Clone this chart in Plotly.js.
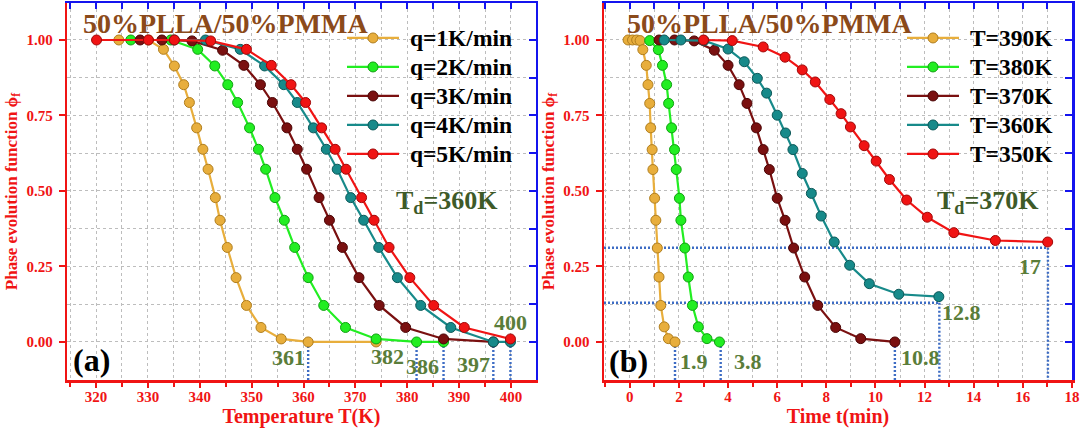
<!DOCTYPE html>
<html><head><meta charset="utf-8">
<script src="https://cdn.plot.ly/plotly-3.0.1.min.js"></script>
<style>html,body{margin:0;padding:0;background:#fff}#chart{width:1084px;height:434px}</style>
</head><body><div id="chart"></div><script>
// ---------- data: panel (a) non-isothermal, phi_f vs temperature ----------
const qNames = ['q=1K/min', 'q=2K/min', 'q=3K/min', 'q=4K/min', 'q=5K/min'];
const q1T   = [324.4, 330.1, 333.0, 335.1, 336.9, 338.0, 339.4, 340.6, 341.6, 343.0, 343.9, 345.3, 347.0, 349.0, 351.8, 355.7, 360.9, 374.0];
const q1Phi = [1.000, 1.000, 0.969, 0.914, 0.852, 0.793, 0.709, 0.638, 0.572, 0.478, 0.403, 0.313, 0.213, 0.121, 0.048, 0.010, 0.000, 0.000];
const q2T   = [326.7, 334.4, 339.6, 342.9, 345.4, 347.3, 349.6, 351.3, 352.7, 354.5, 356.3, 358.3, 360.9, 363.9, 368.1, 374.0, 381.8, 387.0];
const q2Phi = [1.000, 1.000, 0.969, 0.914, 0.852, 0.793, 0.709, 0.638, 0.572, 0.478, 0.403, 0.313, 0.213, 0.121, 0.048, 0.010, 0.000, 0.000];
const q3T   = [328.5, 332.7, 338.5, 344.4, 348.5, 351.7, 354.0, 356.8, 358.8, 360.6, 363.0, 365.0, 367.5, 370.7, 374.6, 379.7, 387.0, 396.6];
const q3Phi = [1.000, 1.000, 0.997, 0.966, 0.916, 0.852, 0.793, 0.709, 0.638, 0.572, 0.478, 0.403, 0.313, 0.213, 0.121, 0.048, 0.010, 0.000];
const q4T   = [335.1, 341.1, 347.8, 352.5, 356.2, 358.8, 361.9, 364.4, 366.5, 369.1, 371.6, 374.5, 378.1, 382.6, 388.4, 396.6, 399.9];
const q4Phi = [1.000, 1.000, 0.969, 0.914, 0.852, 0.793, 0.709, 0.638, 0.572, 0.478, 0.403, 0.313, 0.213, 0.121, 0.048, 0.000, 0.000];
const q5T   = [320.1, 330.1, 335.1, 342.1, 349.0, 353.8, 357.6, 360.4, 363.5, 366.1, 368.2, 371.2, 373.6, 376.5, 380.5, 385.1, 391.0, 399.9];
const q5Phi = [1.000, 1.000, 1.000, 0.997, 0.969, 0.916, 0.852, 0.793, 0.709, 0.638, 0.572, 0.478, 0.403, 0.313, 0.213, 0.121, 0.048, 0.010];
const dropT      = [360.9, 381.8, 387.0, 396.6, 399.9];
const dropTLabel = ['361', '382', '386', '397', '400'];

// ---------- data: panel (b) isothermal, phi_f vs time ----------
const tNames = ['T=390K', 'T=380K', 'T=370K', 'T=360K', 'T=350K'];
const t390   = [-0.07, 0.11, 0.28, 0.42, 0.53, 0.67, 0.74, 0.81, 0.85, 0.91, 0.94, 1.01, 1.06, 1.12, 1.19, 1.26, 1.40, 1.57, 1.84];
const p390   = [1.000, 1.000, 1.000, 0.998, 0.968, 0.916, 0.852, 0.790, 0.709, 0.637, 0.571, 0.476, 0.403, 0.311, 0.215, 0.121, 0.050, 0.011, 0.000];
const t380   = [0.81, 1.16, 1.33, 1.50, 1.58, 1.70, 1.82, 1.89, 2.02, 2.08, 2.24, 2.38, 2.55, 2.79, 3.14, 3.65];
const p380   = [0.998, 0.968, 0.916, 0.852, 0.790, 0.709, 0.637, 0.571, 0.476, 0.403, 0.311, 0.215, 0.121, 0.050, 0.011, 0.000];
const t370   = [1.19, 1.82, 2.62, 3.44, 4.00, 4.45, 4.77, 5.15, 5.43, 5.68, 6.00, 6.32, 6.67, 7.12, 7.65, 8.38, 9.40, 10.79];
const p370   = [1.000, 1.000, 0.997, 0.966, 0.916, 0.852, 0.790, 0.709, 0.637, 0.571, 0.476, 0.403, 0.311, 0.215, 0.121, 0.048, 0.011, 0.000];
const t360   = [1.40, 2.08, 3.02, 4.00, 4.66, 5.19, 5.57, 6.00, 6.34, 6.64, 7.02, 7.39, 7.79, 8.32, 8.95, 9.75, 10.95, 12.58];
const p360   = [1.000, 1.000, 0.998, 0.970, 0.928, 0.873, 0.824, 0.751, 0.692, 0.637, 0.558, 0.492, 0.417, 0.331, 0.254, 0.193, 0.158, 0.150];
const t350   = [3.00, 4.17, 5.43, 6.32, 7.02, 7.55, 8.14, 8.60, 8.98, 9.54, 10.03, 10.57, 11.27, 12.11, 13.19, 14.88, 17.01];
const p350   = [1.000, 0.998, 0.977, 0.943, 0.901, 0.861, 0.803, 0.756, 0.712, 0.650, 0.599, 0.538, 0.470, 0.413, 0.362, 0.336, 0.331];
const dropTime      = [1.84, 3.70, 10.79, 12.60, 17.02];
const dropTimePhi   = [0.000, 0.000, 0.000, 0.130, 0.312];
const dropTimeLabel = ['1.9', '3.8', '10.8', '12.8', '17'];
const guidePhi = [0.312, 0.130];
const guideEnd = [17.02, 12.60];

// ---------- styles ----------
const FONT = 'Liberation Serif, Times New Roman, serif';
const RED = '#F01414', BLUE = '#1414EE', GRID = '#BDBDBD', GUIDE = '#3D6CC4';
const colors = ['#E8AE3C', '#22EE22', '#7A1010', '#178A8A', '#F01414'];
const edges  = ['#B07E1E', '#10A010', '#4A0505', '#0C5858', '#A00808'];
const XL = [314.46, 404.73], XR = [-1.05, 18.0], YR = [-0.126, 1.1225];

function legendText(s) { return '<span style="font-size:23.5px">&nbsp;' + s + '</span>'; }
function series(x, y, name, i, xa, ya, leg) {
  return {type: 'scatter', mode: 'lines+markers', x: x, y: y, name: legendText(name),
    xaxis: xa, yaxis: ya, legend: leg, legendgroup: leg + i,
    line: {color: colors[i], width: 2.2},
    marker: {symbol: 'circle', size: 10, color: colors[i], line: {color: edges[i], width: 1}},
    hoverinfo: 'x+y'};
}
const traces = [];
// guide lines (drawn first, underneath)
dropT.forEach(function (v) {
  traces.push({type: 'scatter', mode: 'lines', x: [v, v], y: [0, YR[0]], xaxis: 'x', yaxis: 'y',
    showlegend: false, hoverinfo: 'skip', line: {color: GUIDE, width: 2.4, dash: '2px,2px'}});
});
dropTime.forEach(function (v, k) {
  traces.push({type: 'scatter', mode: 'lines', x: [v, v], y: [dropTimePhi[k], YR[0]], xaxis: 'x2', yaxis: 'y2',
    showlegend: false, hoverinfo: 'skip', line: {color: GUIDE, width: 2.4, dash: '2px,2px'}});
});
guidePhi.forEach(function (p, k) {
  traces.push({type: 'scatter', mode: 'lines', x: [XR[0], guideEnd[k]], y: [p, p], xaxis: 'x2', yaxis: 'y2',
    showlegend: false, hoverinfo: 'skip', line: {color: GUIDE, width: 2.4, dash: '2px,2px'}});
});
const leftX = [q1T, q2T, q3T, q4T, q5T], leftY = [q1Phi, q2Phi, q3Phi, q4Phi, q5Phi];
const rightX = [t390, t380, t370, t360, t350], rightY = [p390, p380, p370, p360, p350];
for (let i = 0; i < 5; i++) traces.push(series(leftX[i], leftY[i], qNames[i], i, 'x', 'y', 'legend'));
for (let i = 0; i < 5; i++) traces.push(series(rightX[i], rightY[i], tNames[i], i, 'x2', 'y2', 'legend2'));
// empty traces so the blue frame axes exist
traces.push({type: 'scatter', x: [], y: [], xaxis: 'x3', yaxis: 'y3', showlegend: false});
traces.push({type: 'scatter', x: [], y: [], xaxis: 'x4', yaxis: 'y4', showlegend: false});

const tickFont = {family: FONT, size: 15, color: RED, weight: 'bold'};
function bottomAxis(dom, range, tick0, dtick, mdtick, title, anchor) {
  return {domain: dom, range: range, anchor: anchor, tick0: tick0, dtick: dtick,
    ticks: 'outside', ticklen: 5, tickwidth: 2, tickcolor: RED, ticklabelstandoff: -4,
    showline: true, linecolor: RED, linewidth: 2.5, zeroline: false, tickfont: tickFont,
    showgrid: true, gridcolor: GRID, gridwidth: 1, griddash: 'dot',
    minor: {dtick: mdtick, tick0: tick0, ticks: 'outside', ticklen: 4, tickwidth: 2, tickcolor: RED,
      showgrid: true, gridcolor: GRID, gridwidth: 1, griddash: 'dot'},
    title: {text: title, font: {family: FONT, size: 20, color: RED, weight: 'bold'}, standoff: 1},
    automargin: false, fixedrange: true};
}
function leftAxis(anchor) {
  return {domain: [0, 1], range: YR, anchor: anchor, tick0: 0, dtick: 0.25, tickformat: '.2f',
    ticks: 'outside', ticklen: 6, tickwidth: 2, tickcolor: RED, ticklabelstandoff: 3,
    showline: true, linecolor: RED, linewidth: 2.5, zeroline: false, tickfont: tickFont,
    showgrid: true, gridcolor: GRID, gridwidth: 1, griddash: 'dot',
    minor: {dtick: 0.125, tick0: 0, showgrid: true, gridcolor: GRID, gridwidth: 1, griddash: 'dot'},
    title: {text: 'Phase evolution function \u03d5<sub>f</sub>',
      font: {family: FONT, size: 17, color: RED, weight: 'bold'}, standoff: 5},
    automargin: false, fixedrange: true};
}
function topAxis(over, anchor, range, tick0, dtick) {
  return {overlaying: over, side: 'top', anchor: anchor, range: range, tick0: tick0, dtick: dtick,
    ticks: 'inside', ticklen: 6, tickwidth: 2, tickcolor: BLUE, showticklabels: false,
    showline: true, linecolor: BLUE, linewidth: 2.5, showgrid: false, zeroline: false, fixedrange: true};
}
function rightAxis(over, anchor) {
  return {overlaying: over, side: 'right', anchor: anchor, range: YR, tick0: 0, dtick: 0.125,
    ticks: 'inside', ticklen: 7, tickwidth: 2, tickcolor: BLUE, showticklabels: false,
    showline: true, linecolor: BLUE, linewidth: 2.5, showgrid: false, zeroline: false, fixedrange: true};
}

const domL = [67.3 / 1084, 535.5 / 1084], domR = [604 / 1084, 1072 / 1084];
const legendCommon = {bgcolor: 'rgba(0,0,0,0)', borderwidth: 0, itemwidth: 52, tracegroupgap: 0,
  xanchor: 'left', yanchor: 'top', font: {family: FONT, size: 20, color: '#000', weight: 'bold'}};

const ann = [];
const brown = {family: FONT, size: 28, color: '#8B4A1A', weight: 'bold'};
const olive = {family: FONT, size: 22, color: '#5A7D3A', weight: 'bold'};
const dark  = {family: FONT, size: 26, color: '#3E5A28', weight: 'bold'};
const black = {family: FONT, size: 32, color: '#000', weight: 'bold'};
function A(xr, yr, x, y, text, font, xanchor) {
  ann.push({xref: xr, yref: yr, x: x, y: y, text: text, font: font, showarrow: false,
    xanchor: xanchor || 'center', yanchor: 'middle'});
}
A('x', 'y', 317.1, 1.056, '50%PLLA/50%PMMA', brown, 'left');
A('x2', 'y2', -0.21, 1.056, '50%PLLA/50%PMMA', brown, 'left');
A('x', 'y', 387.6, 0.465, 'T<sub>d</sub>=360K', dark);
A('x2', 'y2', 14.6, 0.465, 'T<sub>d</sub>=370K', dark);
A('x', 'y', 319.2, -0.06, '(a)', black);
A('x2', 'y2', -0.07, -0.064, '(b)', black);
const leftLabPos = [[357.1, -0.050], [376.2, -0.049], [382.9, -0.082], [392.7, -0.076], [399.9, 0.066]];
dropTLabel.forEach(function (t, k) { A('x', 'y', leftLabPos[k][0], leftLabPos[k][1], t, olive); });
const rightLabPos = [[2.6, -0.064], [4.8, -0.064], [11.83, -0.052], [13.5, 0.097], [16.28, 0.251]];
dropTimeLabel.forEach(function (t, k) { A('x2', 'y2', rightLabPos[k][0], rightLabPos[k][1], t, olive); });

const layout = {
  width: 1084, height: 434, paper_bgcolor: '#fff', plot_bgcolor: '#fff',
  margin: {l: 0, r: 0, t: 3, b: 54}, showlegend: true, hovermode: false,
  xaxis: bottomAxis(domL, XL, 320, 10, 5, 'Temperature T(K)', 'y'),
  yaxis: leftAxis('x'),
  xaxis2: bottomAxis(domR, XR, 0, 2, 1, 'Time t(min)', 'y2'),
  yaxis2: leftAxis('x2'),
  xaxis3: topAxis('x', 'y', XL, 320, 5),
  yaxis3: rightAxis('y', 'x'),
  xaxis4: topAxis('x2', 'y2', XR, 0, 1),
  yaxis4: rightAxis('y2', 'x2'),
  legend: Object.assign({x: 342 / 1084, y: 0.959}, legendCommon),
  legend2: Object.assign({x: 902 / 1084, y: 0.959}, legendCommon),
  annotations: ann
};
Plotly.newPlot('chart', traces, layout, {displayModeBar: false, staticPlot: true});
</script></body></html>
